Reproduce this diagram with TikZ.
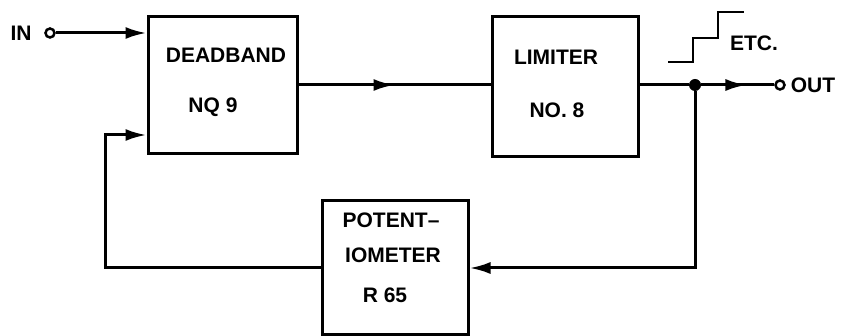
\documentclass[tikz,border=0pt]{standalone}
\usepackage{fontspec}
\setmainfont{Liberation Sans}
\usetikzlibrary{arrows.meta,decorations.markings}
\tikzset{
  blk/.style={draw, line width=3pt, rectangle, inner sep=0pt},
  lbl/.style={font=\fontsize{21}{25}\selectfont\bfseries, inner sep=0pt},
  wire/.style={line width=3pt},
  tip/.style={-{Latex[length=21pt,width=12pt]}},
  term/.style={circle, draw, line width=2.5pt, fill=white, minimum size=9pt, inner sep=0pt},
  dot/.style={circle, fill=black, minimum size=12pt, inner sep=0pt},
  midarrow/.style={postaction={decorate}, decoration={markings, mark=at position #1 with {\arrow{Latex[length=21pt,width=12pt]}}}}
}
\begin{document}
\begin{tikzpicture}[x=1pt,y=-1pt]
\useasboundingbox (0,0) rectangle (857,336);
% blocks
\node[blk, minimum width=149pt, minimum height=137pt] (dead) at (222.5,85.5) {};
\node[blk, minimum width=146pt, minimum height=140pt] (lim) at (565,87) {};
\node[blk, minimum width=146pt, minimum height=134pt] (pot) at (395,268) {};
% labels
\node[lbl] (tdead1) at (226,55) {DEADBAND};
\node[lbl] (tdead2) at (213,107) {NQ 9};
\node[lbl] (tlim1) at (556,57) {LIMITER};
\node[lbl] (tlim2) at (557,110) {NO. 8};
\node[lbl] (tpot1) at (391,220) {POTENT–};
\node[lbl] (tpot2) at (393,255) {IOMETER};
\node[lbl] (tpot3) at (385,295) {R 65};
\node[lbl] (tin) at (21,33) {IN};
\node[lbl] (tout) at (813,85) {OUT};
\node[lbl] (tetc) at (754,43) {ETC.};
% terminals and junction
\node[term] (in) at (50,33) {};
\node[term] (out) at (780,85) {};
\node[dot] (jn) at (695,85) {};
\coordinate (fb) at (105,135);
% connectors
\draw[wire, tip] (in) -- (in -| dead.west);
\draw[wire, midarrow=0.5] (dead.east |- 0,85) -- (lim.west |- 0,85);
\draw[wire] (lim.east |- jn) -- (jn);
\draw[wire, midarrow=0.62] (jn) -- (out);
\draw[wire, tip] (jn) |- (pot.east);
\draw[wire, tip] (pot.west) -| (fb) -- (fb -| dead.west);
% step symbol
\draw[line width=2.6pt] (668,62) -- (693,62) -- (693,38) -- (718,38) -- (718,12) -- (744,12);
\end{tikzpicture}
\end{document}
